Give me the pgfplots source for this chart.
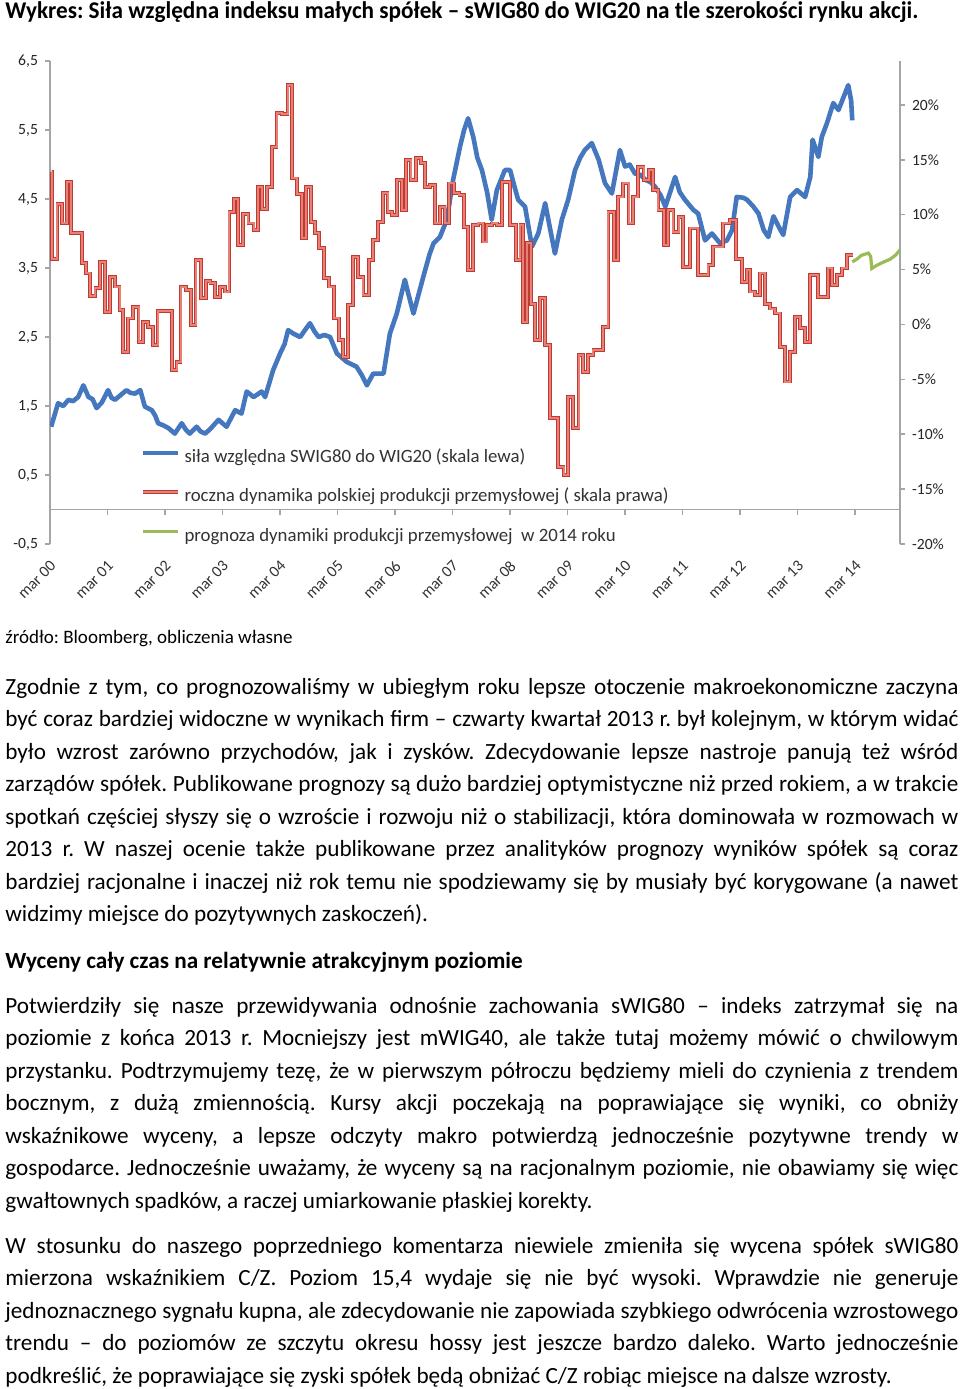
\documentclass[border=0pt]{standalone}
\usepackage{fontspec}
\setmainfont{Carlito}
\usepackage{pgfplots}
\pgfplotsset{compat=1.18}
\frenchspacing
\definecolor{xblue}{RGB}{68,119,190}
\definecolor{xred}{RGB}{192,58,52}
\definecolor{xredin}{RGB}{232,128,118}
\definecolor{xgreen}{RGB}{155,187,89}
\definecolor{axgray}{RGB}{165,165,165}
\newcommand\J[1]{\makebox[476.5pt][s]{#1}}
\newcommand\bodyfont{\fontsize{11.6}{14}\selectfont}
\begin{document}
\begin{tikzpicture}
\useasboundingbox (0,0) rectangle (480pt,-694.5pt);
\fill[white] (0,0) rectangle (480pt,-694.5pt);
\begin{axis}[
  at={(25pt,-272pt)}, anchor=south west,
  scale only axis, width=425pt, height=241.5pt,
  xmin=0, xmax=14.78, ymin=-0.5, ymax=6.5,
  axis x line=middle, axis y line=left,
  axis line style={-},
  x axis line style={-, draw=axgray, line width=0.75pt},
  y axis line style={-, draw=axgray, line width=0.75pt},
  hide obscured x ticks=false,
  tick align=outside, major tick length=2.5pt,
  tick style={draw=axgray, line width=0.75pt},
  xtick={0,...,14},
  xticklabels={mar 00,mar 01,mar 02,mar 03,mar 04,mar 05,mar 06,mar 07,mar 08,mar 09,mar 10,mar 11,mar 12,mar 13,mar 14},
  xticklabel style={xshift=4pt, yshift=-22pt, rotate=45, anchor=east, font=\fontsize{8}{9}\selectfont, text=black!80},
  ytick={-0.5,0.5,...,6.5},
  /pgf/number format/.cd, use comma, fixed, fixed zerofill, precision=1, assume math mode=true,
  /pgfplots/.cd,
  yticklabel style={font=\fontsize{7.8}{9}\selectfont, text=black!85},
  legend style={at={(axis description cs:0.107,0.198)}, anchor=north west, draw=none, fill=none,
    inner sep=0pt, outer sep=0pt,
    font=\fontsize{9.4}{11}\selectfont, text=black!80, row sep=10.25pt,
    nodes={inner sep=0pt, text height=7pt, text depth=2.5pt},
    /tikz/every odd column/.append style={column sep=2pt}},
  legend cell align=left,
  legend image code/.code={\draw[#1] (0pt,2.5pt) -- (17.5pt,2.5pt);},
]
\addplot[xblue, line width=2.3pt, line join=round] coordinates {
(0.02,1.20)(0.14,1.54)(0.23,1.50)(0.32,1.59)(0.40,1.57)(0.49,1.63)(0.58,1.80)(0.67,1.63)(0.74,1.60)(0.81,1.47)(0.90,1.55)(1.01,1.73)(1.07,1.62)(1.13,1.59)(1.23,1.66)(1.33,1.73)(1.40,1.69)(1.48,1.68)(1.57,1.73)(1.65,1.49)(1.77,1.44)(1.83,1.36)(1.88,1.25)(1.97,1.22)(2.06,1.18)(2.17,1.10)(2.29,1.25)(2.36,1.16)(2.43,1.10)(2.55,1.20)(2.62,1.13)(2.70,1.10)(2.80,1.18)(2.93,1.30)(3.07,1.20)(3.22,1.44)(3.33,1.39)(3.42,1.71)(3.54,1.63)(3.68,1.71)(3.74,1.63)(3.88,2.02)(4.00,2.26)(4.08,2.40)(4.14,2.60)(4.23,2.55)(4.35,2.50)(4.45,2.62)(4.52,2.70)(4.60,2.58)(4.67,2.50)(4.77,2.53)(4.87,2.50)(4.99,2.26)(5.16,2.14)(5.33,2.07)(5.42,1.95)(5.51,1.80)(5.62,1.97)(5.80,1.97)(5.91,2.55)(6.03,2.84)(6.17,3.33)(6.23,3.13)(6.32,2.84)(6.49,3.37)(6.60,3.70)(6.67,3.86)(6.78,3.95)(6.90,4.20)(7.01,4.78)(7.13,5.26)(7.20,5.50)(7.27,5.67)(7.36,5.40)(7.43,5.10)(7.51,4.92)(7.60,4.60)(7.68,4.20)(7.77,4.63)(7.91,4.92)(8.00,4.92)(8.07,4.70)(8.14,4.49)(8.26,4.39)(8.38,3.81)(8.49,4.00)(8.61,4.44)(8.70,4.05)(8.78,3.71)(8.90,4.20)(9.01,4.49)(9.13,4.92)(9.22,5.10)(9.30,5.21)(9.42,5.31)(9.54,5.07)(9.65,4.73)(9.77,4.58)(9.91,5.21)(10.00,4.97)(10.08,5.00)(10.17,4.87)(10.27,4.85)(10.35,4.78)(10.45,4.74)(10.52,4.68)(10.62,4.55)(10.70,4.39)(10.87,4.82)(10.95,4.60)(11.04,4.49)(11.19,4.34)(11.27,4.29)(11.39,3.90)(11.51,4.00)(11.65,3.86)(11.77,3.90)(11.86,4.05)(11.94,4.53)(12.05,4.52)(12.12,4.49)(12.23,4.39)(12.32,4.29)(12.41,4.05)(12.49,3.95)(12.58,4.25)(12.67,4.10)(12.75,3.98)(12.87,4.53)(12.99,4.63)(13.13,4.53)(13.22,4.82)(13.26,5.36)(13.36,5.11)(13.42,5.40)(13.51,5.60)(13.62,5.89)(13.71,5.79)(13.80,5.98)(13.88,6.15)(13.93,5.93)(13.95,5.64)
};
\addlegendentry{siła względna SWIG80 do WIG20 (skala lewa)}
\addlegendimage{draw=xred, line width=0.45pt, double=xredin, double distance=1.0pt}
\addlegendentry{roczna dynamika polskiej produkcji przemysłowej ( skala prawa)}
\addlegendimage{xgreen, line width=1.6pt}
\addlegendentry{prognoza dynamiki produkcji przemysłowej \ w 2014 roku}
\end{axis}
\begin{axis}[
  at={(25pt,-272pt)}, anchor=south west,
  scale only axis, width=425pt, height=241.5pt,
  xmin=0, xmax=14.78, ymin=-20, ymax=24,
  axis x line=none, axis y line*=right,
  y axis line style={-, draw=axgray, line width=0.75pt},
  tick align=outside, major tick length=2.5pt,
  tick style={draw=axgray, line width=0.75pt},
  ytick={-20,-15,...,20},
  yticklabel={\pgfmathprintnumber[assume math mode=true]{\tick}\%},
  yticklabel style={font=\fontsize{7.8}{9}\selectfont, text=black!85},
]
\addplot[const plot, draw=xred, line width=0.45pt, double=xredin, double distance=1.0pt] coordinates {
(0.03,13.9)(0.04,6.0)(0.13,11.0)(0.21,9.2)(0.29,13.0)(0.36,8.35)(0.55,5.6)(0.63,4.65)(0.70,2.6)(0.79,3.3)(0.87,5.7)(0.96,1.15)(1.04,4.35)(1.13,3.45)(1.21,1.3)(1.27,-2.5)(1.36,0.55)(1.45,1.6)(1.54,-1.6)(1.62,0.25)(1.71,-0.2)(1.79,-1.9)(1.87,1.25)(2.12,-4.15)(2.20,-3.4)(2.27,3.45)(2.36,3.15)(2.45,-0.05)(2.53,5.85)(2.62,2.4)(2.71,3.95)(2.79,3.8)(2.87,2.5)(2.96,3.4)(3.04,3.0)(3.12,10.25)(3.20,11.4)(3.27,7.25)(3.36,10.05)(3.45,9.2)(3.54,8.6)(3.61,12.55)(3.69,10.55)(3.77,12.55)(3.86,16.2)(3.94,19.3)(4.03,19.15)(4.13,21.8)(4.21,13.3)(4.29,11.9)(4.38,7.85)(4.45,12.55)(4.54,9.35)(4.61,8.3)(4.68,6.95)(4.77,4.2)(4.85,3.45)(4.94,0.55)(5.03,-1.4)(5.10,-2.95)(5.18,1.75)(5.27,6.15)(5.36,4.35)(5.45,2.7)(5.54,5.85)(5.61,7.7)(5.70,9.35)(5.79,11.95)(5.87,10.25)(5.94,9.95)(6.03,13.15)(6.12,10.4)(6.19,15.0)(6.27,13.15)(6.36,15.15)(6.45,14.7)(6.52,12.55)(6.61,12.7)(6.70,9.2)(6.78,10.7)(6.86,9.2)(6.94,12.85)(7.03,11.95)(7.12,11.8)(7.20,8.9)(7.27,4.95)(7.36,9.05)(7.45,9.2)(7.53,7.55)(7.59,9.05)(7.68,9.2)(7.77,9.05)(7.86,13.0)(8.00,9.05)(8.10,5.85)(8.18,9.05)(8.23,0.2)(8.30,7.4)(8.37,1.9)(8.44,-1.4)(8.52,2.4)(8.61,-1.9)(8.70,-8.55)(8.84,-12.95)(8.93,-13.7)(9.01,-6.6)(9.10,-9.45)(9.19,-2.8)(9.27,-4.3)(9.36,-2.8)(9.45,-2.35)(9.62,-0.2)(9.71,10.25)(9.80,5.85)(9.88,11.65)(9.97,12.85)(10.06,9.2)(10.14,11.65)(10.23,14.35)(10.32,13.15)(10.41,14.05)(10.49,12.25)(10.58,10.4)(10.67,7.25)(10.75,10.4)(10.84,8.45)(10.93,9.8)(11.01,5.25)(11.13,8.75)(11.27,4.5)(11.45,5.4)(11.53,7.1)(11.70,9.2)(11.83,9.5)(11.93,5.95)(12.03,3.9)(12.12,4.95)(12.17,3.0)(12.26,2.7)(12.35,4.65)(12.43,1.9)(12.52,1.45)(12.61,1.0)(12.70,-2.05)(12.78,-5.2)(12.87,-2.5)(12.96,0.7)(13.04,-0.35)(13.13,-1.6)(13.22,4.5)(13.36,2.5)(13.53,5.1)(13.60,3.6)(13.69,4.5)(13.77,5.1)(13.86,6.3)(13.97,6.3)
};
\addplot[xgreen, line width=1.6pt] coordinates {
(13.95,5.7)(14.03,5.95)(14.11,6.3)(14.23,6.5)(14.27,6.2)(14.29,5.1)(14.38,5.4)(14.50,5.7)(14.61,5.95)(14.70,6.3)(14.78,6.8)
};
\end{axis}
\begin{scope}[x=0.5pt,y=-0.5pt]
\node[anchor=base west, inner sep=0pt, font=\bfseries\fontsize{12}{14}\selectfont] at (5,18) {\resizebox{456.5pt}{\height}{Wykres: Siła względna indeksu małych spółek – sWIG80 do WIG20 na tle szerokości rynku akcji.}};
\node[anchor=base west, inner sep=0pt, font=\fontsize{9.5}{11}\selectfont] at (5,643) {źródło: Bloomberg, obliczenia własne};
\begin{scope}[every node/.style={anchor=base west, inner sep=0pt, font=\bodyfont}]
\node at (5,694) {\J{Zgodnie z tym, co prognozowaliśmy w ubiegłym roku lepsze otoczenie makroekonomiczne zaczyna}};
\node at (5,726) {\J{być coraz bardziej widoczne w wynikach firm – czwarty kwartał 2013 r. był kolejnym, w którym widać}};
\node at (5,759) {\J{było wzrost zarówno przychodów, jak i zysków. Zdecydowanie lepsze nastroje panują też wśród}};
\node at (5,791) {\J{zarządów spółek. Publikowane prognozy są dużo bardziej optymistyczne niż przed rokiem, a w trakcie}};
\node at (5,824) {\J{spotkań częściej słyszy się o wzroście i rozwoju niż o stabilizacji, która dominowała w rozmowach w}};
\node at (5,856) {\J{2013 r. W naszej ocenie także publikowane przez analityków prognozy wyników spółek są coraz}};
\node at (5,889) {\J{bardziej racjonalne i inaczej niż rok temu nie spodziewamy się by musiały być korygowane (a nawet}};
\node at (5,921) {widzimy miejsce do pozytywnych zaskoczeń).};
\node[font=\bodyfont\bfseries] at (5,968) {Wyceny cały czas na relatywnie atrakcyjnym poziomie};
\node at (5,1013) {\J{Potwierdziły się nasze przewidywania odnośnie zachowania sWIG80 – indeks zatrzymał się na}};
\node at (5,1045) {\J{poziomie z końca 2013 r. Mocniejszy jest mWIG40, ale także tutaj możemy mówić o chwilowym}};
\node at (5,1078) {\J{przystanku. Podtrzymujemy tezę, że w pierwszym półroczu będziemy mieli do czynienia z trendem}};
\node at (5,1110) {\J{bocznym, z dużą zmiennością. Kursy akcji poczekają na poprawiające się wyniki, co obniży}};
\node at (5,1143) {\J{wskaźnikowe wyceny, a lepsze odczyty makro potwierdzą jednocześnie pozytywne trendy w}};
\node at (5,1175) {\J{gospodarce. Jednocześnie uważamy, że wyceny są na racjonalnym poziomie, nie obawiamy się więc}};
\node at (5,1208) {gwałtownych spadków, a raczej umiarkowanie płaskiej korekty.};
\node at (5,1253) {\J{W stosunku do naszego poprzedniego komentarza niewiele zmieniła się wycena spółek sWIG80}};
\node at (5,1285) {\J{mierzona wskaźnikiem C/Z. Poziom 15,4 wydaje się nie być wysoki. Wprawdzie nie generuje}};
\node at (5,1318) {\J{jednoznacznego sygnału kupna, ale zdecydowanie nie zapowiada szybkiego odwrócenia wzrostowego}};
\node at (5,1350) {\J{trendu – do poziomów ze szczytu okresu hossy jest jeszcze bardzo daleko. Warto jednocześnie}};
\node at (5,1383) {podkreślić, że poprawiające się zyski spółek będą obniżać C/Z robiąc miejsce na dalsze wzrosty.};
\end{scope}
\end{scope}
\end{tikzpicture}
\end{document}
